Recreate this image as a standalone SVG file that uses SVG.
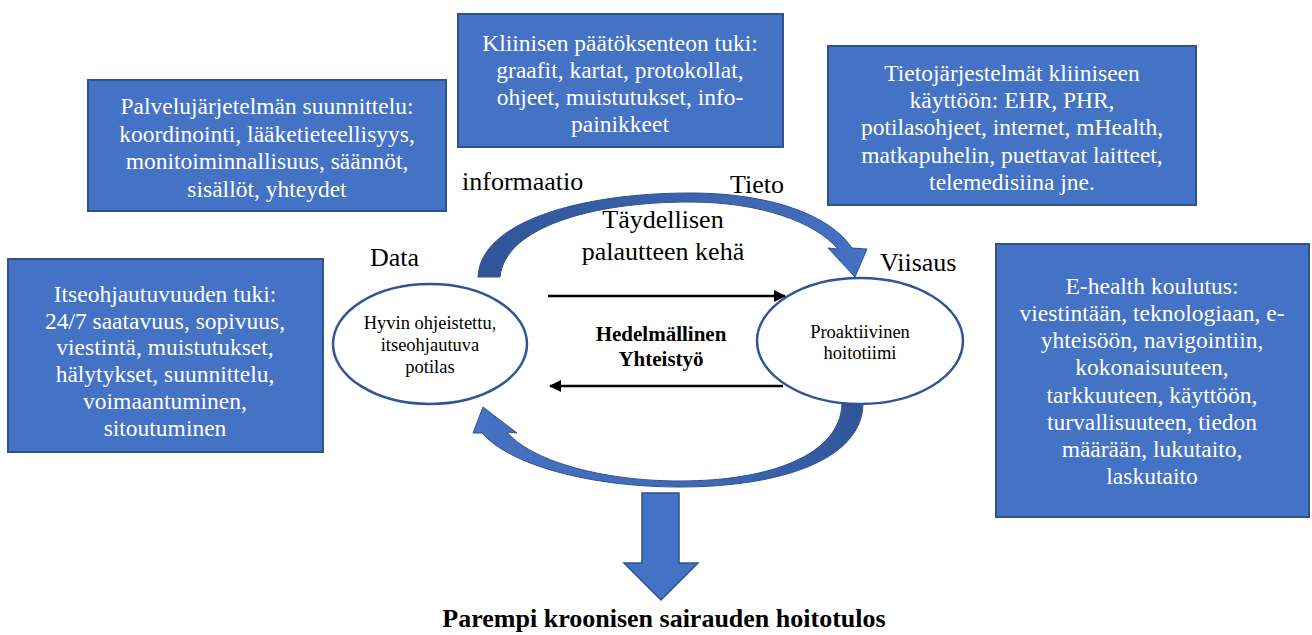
<svg xmlns="http://www.w3.org/2000/svg" width="1312" height="635" viewBox="0 0 1312 635">
<style>
.box{fill:#4472C4;stroke:#2F528F;stroke-width:2}
.bt{font-family:"Liberation Serif","Times New Roman",serif;font-size:23.5px;fill:#fff;text-anchor:middle}
.lbl{font-family:"Liberation Serif","Times New Roman",serif;font-size:26px;fill:#000}
.el{fill:#fff;stroke:#2F5597;stroke-width:2.5}
.et{font-family:"Liberation Serif","Times New Roman",serif;font-size:18.5px;fill:#000;text-anchor:middle}
.bold{font-family:"Liberation Serif","Times New Roman",serif;font-weight:bold;fill:#000;text-anchor:middle}
.ln{stroke:#000;stroke-width:2.5;fill:none}
.blk{fill:#4472C4;stroke:#2F528F;stroke-width:1.5}
</style>
<defs>
<marker id="ah" markerWidth="12" markerHeight="12" refX="11" refY="6" orient="auto" markerUnits="userSpaceOnUse" viewBox="0 0 12 12">
<path d="M0,0 L12,6 L0,12 Z" fill="#000"/>
</marker>
<linearGradient id="gb" x1="0" y1="0" x2="1" y2="0">
<stop offset="0" stop-color="#4472C4"/>
<stop offset="0.6" stop-color="#3F69B6"/>
<stop offset="1" stop-color="#2F5597"/>
</linearGradient>
<linearGradient id="gt" x1="0" y1="0" x2="1" y2="0">
<stop offset="0" stop-color="#2F5597"/>
<stop offset="0.5" stop-color="#3A63AC"/>
<stop offset="1" stop-color="#4472C4"/>
</linearGradient>
</defs>

<g id="palvelu">
<rect class="box" x="88" y="80" width="358" height="131"/>
<text class="bt" x="267" y="114">Palvelujärjetelmän suunnittelu:</text>
<text class="bt" x="267" y="141.5">koordinointi, lääketieteellisyys,</text>
<text class="bt" x="267" y="169">monitoiminnallisuus, säännöt,</text>
<text class="bt" x="267" y="196.5">sisällöt, yhteydet</text>
</g>

<g id="kliininen">
<rect class="box" x="458" y="14" width="325" height="133"/>
<text class="bt" x="620" y="51">Kliinisen päätöksenteon tuki:</text>
<text class="bt" x="620" y="78">graafit, kartat, protokollat,</text>
<text class="bt" x="620" y="105">ohjeet, muistutukset, info-</text>
<text class="bt" x="620" y="132">painikkeet</text>
</g>

<g id="tietojarjestelmat">
<rect class="box" x="828" y="46" width="368" height="159"/>
<text class="bt" x="1012" y="81">Tietojärjestelmät kliiniseen</text>
<text class="bt" x="1012" y="108">käyttöön: EHR, PHR,</text>
<text class="bt" x="1012" y="135">potilasohjeet, internet, mHealth,</text>
<text class="bt" x="1012" y="163">matkapuhelin, puettavat laitteet,</text>
<text class="bt" x="1012" y="190">telemedisiina jne.</text>
</g>

<g id="itseohjautuvuus">
<rect class="box" x="8" y="259" width="315" height="193"/>
<text class="bt" x="165" y="302">Itseohjautuvuuden tuki:</text>
<text class="bt" x="165" y="328.5">24/7 saatavuus, sopivuus,</text>
<text class="bt" x="165" y="355">viestintä, muistutukset,</text>
<text class="bt" x="165" y="381.5">hälytykset, suunnittelu,</text>
<text class="bt" x="165" y="409">voimaantuminen,</text>
<text class="bt" x="165" y="436">sitoutuminen</text>
</g>

<g id="ehealth">
<rect class="box" x="996" y="244" width="313" height="273"/>
<text class="bt" x="1152" y="294">E-health koulutus:</text>
<text class="bt" x="1152" y="321">viestintään, teknologiaan, e-</text>
<text class="bt" x="1152" y="348">yhteisöön, navigointiin,</text>
<text class="bt" x="1152" y="375">kokonaisuuteen,</text>
<text class="bt" x="1152" y="403">tarkkuuteen, käyttöön,</text>
<text class="bt" x="1152" y="430">turvallisuuteen, tiedon</text>
<text class="bt" x="1152" y="457">määrään, lukutaito,</text>
<text class="bt" x="1152" y="484">laskutaito</text>
</g>

<g id="cycle-arrows">
<path d="M 478,277 C 480,222 580,193 690,193 C 770,193 830,215 852,248 L 867,249 L 855,277 L 828,248 L 838,249 C 815,222 760,202 690,202 C 590,202 505,228 500,277 Z" fill="url(#gt)" stroke="#2F528F" stroke-width="1"/>
<path d="M 863,404 C 862,460 780,487 680,487 C 590,487 510,465 482,433 L 473,433 L 483,407 L 517,433 L 507,432 C 530,460 600,481 680,481 C 770,481 840,455 842,404 Z" fill="url(#gb)" stroke="#2F528F" stroke-width="1"/>
</g>

<g id="potilas">
<ellipse class="el" cx="430" cy="344" rx="97" ry="60"/>
<text class="et" x="430" y="329">Hyvin ohjeistettu,</text>
<text class="et" x="430" y="351">itseohjautuva</text>
<text class="et" x="430" y="373">potilas</text>
</g>

<g id="hoitotiimi">
<ellipse class="el" cx="860" cy="341" rx="103" ry="63"/>
<text class="et" x="860" y="338">Proaktiivinen</text>
<text class="et" x="860" y="359">hoitotiimi</text>
</g>

<g id="connectors">
<line class="ln" x1="548" y1="296" x2="785" y2="296" marker-end="url(#ah)"/>
<line class="ln" x1="783" y1="386" x2="550" y2="386" marker-end="url(#ah)"/>
</g>

<g id="labels">
<text class="lbl" x="370" y="266">Data</text>
<text class="lbl" x="462" y="190">informaatio</text>
<text class="lbl" x="730" y="193">Tieto</text>
<text class="lbl" x="880" y="271">Viisaus</text>
<text class="lbl" x="663" y="228" text-anchor="middle">Täydellisen</text>
<text class="lbl" x="663" y="260" text-anchor="middle">palautteen kehä</text>
<text class="bold" x="661" y="341" font-size="21px">Hedelmällinen</text>
<text class="bold" x="661" y="366" font-size="21px">Yhteistyö</text>
</g>

<g id="outcome">
<path class="blk" d="M 642,493 L 679,493 L 679,563 L 698,563 L 661,600 L 624,563 L 642,563 Z"/>
<text class="bold" x="664" y="627" font-size="26px">Parempi kroonisen sairauden hoitotulos</text>
</g>
</svg>
